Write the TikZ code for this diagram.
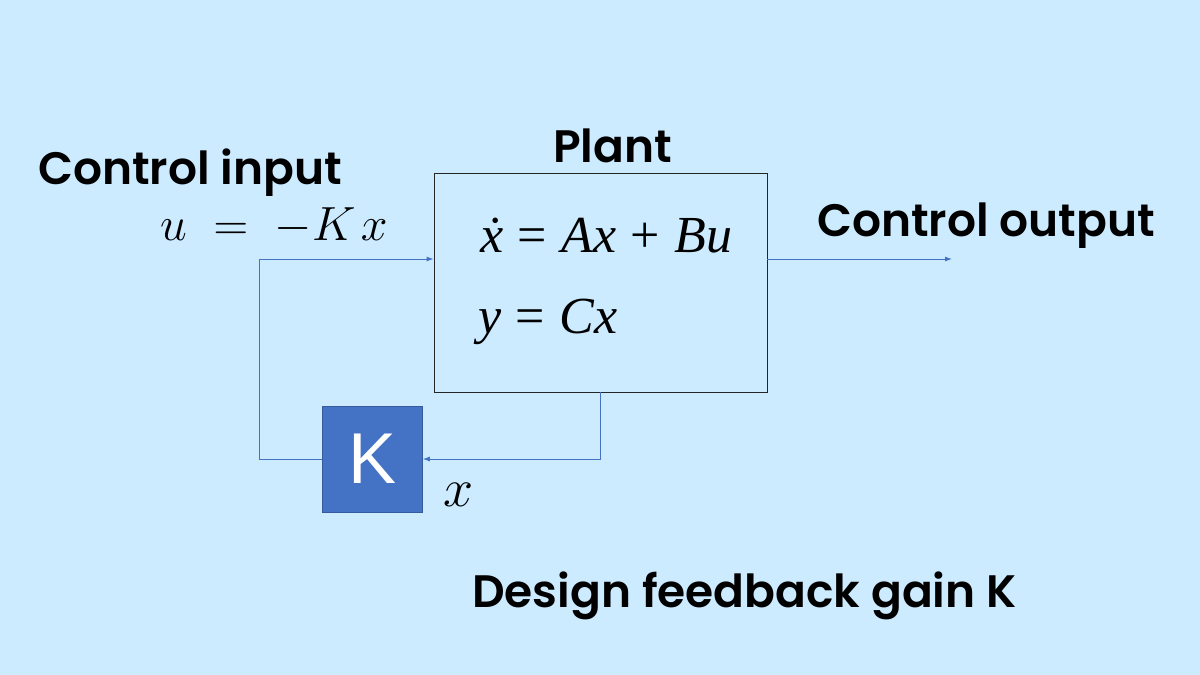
\RequirePackage{fix-cm}
\documentclass[tikz,border=0pt]{standalone}
\usepackage{fontspec}
\setmainfont{Poppins}[BoldFont = * SemiBold]
\newfontfamily\tms{Liberation Serif}
\newfontfamily\ksans{Liberation Sans}
\usetikzlibrary{arrows.meta}
\definecolor{bg}{HTML}{CCEBFF}
\definecolor{kblue}{HTML}{4472C4}
\begin{document}
\begin{tikzpicture}[x=1pt,y=-1pt,
  lbl/.style={anchor=base west,inner sep=0pt,font=\fontsize{45.5}{48}\selectfont\bfseries},
  eqn/.style={anchor=base west,inner sep=0pt,font=\fontsize{52}{56}\selectfont\tms},
  mth/.style={anchor=base west,inner sep=0pt,font=\fontsize{48}{50}\selectfont},
  conn/.style={draw=kblue,line width=0.9pt,-{Latex[length=7pt,width=5pt]}},
  wire/.style={draw=kblue,line width=0.9pt},
  plantbox/.style={draw=black!85,line width=0.9pt,fill=bg,minimum width=333pt,minimum height=219pt,inner sep=0pt},
  kbox/.style={fill=kblue,draw=kblue!80!black,line width=0.6pt,minimum width=100pt,minimum height=106pt,inner sep=0pt,text=white,font=\fontsize{72}{72}\selectfont\ksans}]
\fill[bg] (0,0) rectangle (1200,675);
\useasboundingbox (0,0) rectangle (1200,675);
\node[plantbox] (plant) at (600.5,282.5) {};
\node[kbox] (K) at (372.5,459) {K};
\coordinate (c1) at (259,459);
\coordinate (c2) at (259,259);
\coordinate (out) at (952,259);
\draw[wire] (K.west) -- (c1) -- (c2);
\draw[conn] (c2) -- (c2 -| plant.west);
\draw[conn] (plant.south) |- (K.east);
\draw[conn] (c2 -| plant.east) -- (out);
\node[lbl] (tplant) at (553,162) {Plant};
\node[lbl] (tin) at (38,184) {Control input};
\node[lbl] (tout) at (817,236) {Control output};
\node[lbl] (tdes) at (472,607) {Design feedback gain K};
\node[mth] (ukx) at (160,240) {$u\mskip5mu=\mskip5mu{-}K\mskip2mu x$};
\node[mth,font=\fontsize{54}{56}\selectfont] (xl) at (443,506) {$x$};
\node[eqn] (eq1) at (480,252) {\textit{\.x}\;=\;\textit{Ax}\;+\;\textit{Bu}};
\node[eqn] (eq2) at (478,333) {\textit{y}\;=\;\textit{Cx}};
\end{tikzpicture}
\end{document}
